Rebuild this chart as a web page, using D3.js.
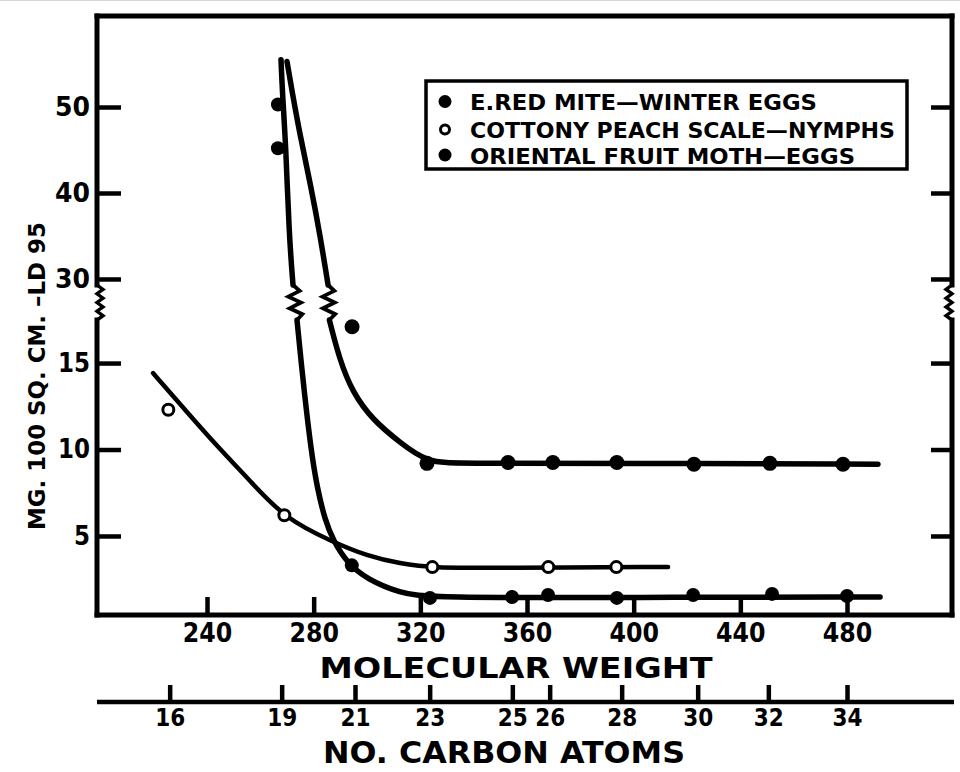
<!DOCTYPE html>
<html>
<head>
<meta charset="utf-8">
<script src="https://cdn.jsdelivr.net/npm/d3@7"></script>
<style>
  html, body { margin: 0; padding: 0; background: #fff; }
  svg { display: block; }
  text { font-family: "DejaVu Sans", "Liberation Sans", Arial, sans-serif; font-weight: bold; fill: #000; }
</style>
</head>
<body>
<svg id="chart" width="960" height="772"></svg>
<script>
// ---------- DATA ----------
const mwTicks = [240, 280, 320, 360, 400, 440, 480];
const carbonLabels = ["16", "19", "21", "23", "25", "26", "28", "30", "32", "34"];
const carbonMW = [226, 268, 295.5, 323.5, 354.5, 368.5, 395.5, 424, 450.5, 480];
const yTicksUpper = [30, 40, 50];
const yTicksLower = [5, 10, 15];

const legendLabels = [
  "E.RED MITE\u2014WINTER EGGS",
  "COTTONY PEACH SCALE\u2014NYMPHS",
  "ORIENTAL FRUIT MOTH\u2014EGGS"
];

// points [molecular weight, mg/100 sq cm LD95]
const redMitePts = [[294.4, 17.1], [322.5, 9.2], [352.9, 9.25], [369.7, 9.25], [393.7, 9.25], [422.6, 9.15], [451.1, 9.2], [478.5, 9.15]];
const cottonyPts = [[225.5, 12.3], [269, 6.2], [324.5, 3.2], [368, 3.2], [393.5, 3.2]];
const fruitMothPts = [[266.6, 45.2], [266.6, 50.3], [294.3, 3.3], [323.6, 1.42], [354.4, 1.47], [367.9, 1.59], [393.7, 1.42], [422.3, 1.59], [451.9, 1.65], [480, 1.53]];

// fitted curves (upper part above the axis break, lower part below it)
const redMiteCurveUpper = [[270.0, 55.3], [271.8, 52.0], [274.9, 46.7], [279.0, 40.7], [282.4, 35.1], [285.4, 29.3]];
const redMiteCurveLower = [[285.9, 17.49], [289.7, 15.2], [294.6, 13.3], [302.2, 11.7], [312.4, 10.4], [322.5, 9.25], [335, 9.2], [400, 9.2], [491.6, 9.15]];
const fruitMothCurveUpper = [[267.75, 55.5], [268.3, 51.5], [269.6, 45.3], [270.75, 35.3], [272.25, 29.3]];
const fruitMothCurveLower = [[273.75, 17.49], [275.25, 15.17], [276.4, 13.44], [279, 9.97], [281.25, 7.83], [284.25, 5.92], [287.25, 4.77], [292.5, 3.45], [300, 2.5], [312.4, 1.7], [323.6, 1.42], [400, 1.45], [492.4, 1.47]];
const cottonyCurve = [[219.75, 14.42], [231.75, 12.3], [243.75, 10.2], [256.1, 8.2], [269.25, 6.0], [287.25, 4.65], [300, 3.85], [312.4, 3.4], [324.75, 3.15], [350, 3.15], [412.9, 3.21]];

// ---------- LAYOUT ----------
const X0 = 97, X1 = 952, TOP = 16, BOT = 615;
const BREAK_TOP = 285, BREAK_BOT = 320;
const CARBON_Y = 702;

const svg = d3.select("#chart");
svg.append("rect").attr("width", 960).attr("height", 772).attr("fill", "#fff");
svg.append("line").attr("x1", 0).attr("x2", 960).attr("y1", 0.5).attr("y2", 0.5).attr("stroke", "#d8d8d8").attr("stroke-width", 1);

const x = d3.scaleLinear().domain([240, 480]).range([207, 847]);
const yUp = d3.scaleLinear().domain([29.3, 60.7]).range([BREAK_TOP, 15]);
const yLo = d3.scaleLinear().domain([0.43, 17.49]).range([BOT, BREAK_BOT]);
const yv = v => (v >= 25 ? yUp(v) : yLo(v));

// zigzag helper (break symbol)
function zigzag(xa, ya, xb, yb, n, amp, side) {
  const pts = [[xa, ya]];
  const steps = 2 * n;
  for (let i = 1; i < steps; i++) {
    const t = i / steps;
    const off = (i % 2 === 1) ? amp : (side === "both" ? -amp : 0);
    const sgn = side === "left" ? -1 : 1;
    pts.push([xa + (xb - xa) * t + sgn * off, ya + (yb - ya) * t]);
  }
  pts.push([xb, yb]);
  return d3.line()(pts);
}

// ---------- FRAME ----------
const frame = svg.append("g").attr("stroke", "#000").attr("fill", "none").attr("stroke-linecap", "square");
frame.append("line").attr("x1", X0).attr("x2", X1).attr("y1", TOP).attr("y2", TOP).attr("stroke-width", 5);
frame.append("line").attr("x1", X0).attr("x2", X1).attr("y1", BOT).attr("y2", BOT).attr("stroke-width", 5);
[X0, X1].forEach((xx, i) => {
  frame.append("line").attr("x1", xx).attr("x2", xx).attr("y1", TOP).attr("y2", BREAK_TOP).attr("stroke-width", 5);
  frame.append("line").attr("x1", xx).attr("x2", xx).attr("y1", BREAK_BOT).attr("y2", BOT).attr("stroke-width", 5);
  frame.append("path").attr("d", zigzag(xx, BREAK_TOP, xx, BREAK_BOT, 4, 6, i === 0 ? "right" : "left"))
    .attr("stroke-width", 3.4).attr("stroke-linejoin", "miter");
});

// ---------- AXES ----------
function styleAxis(g, fs, perChar) {
  g.select(".domain").remove();
  g.selectAll(".tick line").attr("stroke", "#000").attr("stroke-width", 4.5);
  g.selectAll(".tick text").attr("font-size", fs)
    .attr("font-family", "DejaVu Sans, Liberation Sans, Arial, sans-serif")
    .attr("font-weight", "bold").attr("fill", "#000");
  if (perChar) {
    g.selectAll(".tick text").each(function () {
      const s = d3.select(this);
      const n = s.text().length;
      if (n) s.attr("textLength", n * perChar).attr("lengthAdjust", "spacingAndGlyphs");
    });
  }
}
// bottom molecular weight axis
svg.append("g").attr("transform", `translate(0,${BOT})`)
  .call(d3.axisBottom(x).tickValues(mwTicks).tickSize(-18).tickPadding(9).tickFormat(d3.format("d")))
  .call(g => styleAxis(g, 26, 16.5));

// left axis
svg.append("g").attr("transform", `translate(${X0},0)`)
  .call(d3.axisLeft(yUp).tickValues(yTicksUpper).tickSize(-24).tickPadding(7))
  .call(g => styleAxis(g, 26, 17.5));
svg.append("g").attr("transform", `translate(${X0},0)`)
  .call(d3.axisLeft(yLo).tickValues(yTicksLower).tickSize(-24).tickPadding(7))
  .call(g => styleAxis(g, 26, 16));
// right axis (ticks only)
svg.append("g").attr("transform", `translate(${X1},0)`)
  .call(d3.axisRight(yUp).tickValues(yTicksUpper).tickSize(-21).tickFormat(""))
  .call(g => styleAxis(g, 26));
svg.append("g").attr("transform", `translate(${X1},0)`)
  .call(d3.axisRight(yLo).tickValues(yTicksLower).tickSize(-21).tickFormat(""))
  .call(g => styleAxis(g, 26));

// carbon atoms axis
svg.append("line").attr("x1", X0).attr("x2", 954).attr("y1", CARBON_Y).attr("y2", CARBON_Y)
  .attr("stroke", "#000").attr("stroke-width", 4.5);
svg.append("g").attr("transform", `translate(0,${CARBON_Y})`)
  .call(d3.axisBottom(x).tickValues(carbonMW).tickSize(-17).tickPadding(6).tickFormat((d, i) => carbonLabels[i]))
  .call(g => styleAxis(g, 25, 15));

// axis titles
svg.append("text").attr("x", 516).attr("y", 678).attr("text-anchor", "middle").attr("font-size", 29)
  .attr("textLength", 393).attr("lengthAdjust", "spacingAndGlyphs")
  .text("MOLECULAR    WEIGHT");
svg.append("text").attr("x", 504).attr("y", 763).attr("text-anchor", "middle").attr("font-size", 31)
  .attr("textLength", 362).attr("lengthAdjust", "spacingAndGlyphs")
  .text("NO. CARBON  ATOMS");
svg.append("text").attr("transform", "translate(45,376) rotate(-90)").attr("text-anchor", "middle")
  .attr("font-size", 23).attr("textLength", 308).attr("lengthAdjust", "spacingAndGlyphs")
  .text("MG. 100 SQ. CM. \u2013LD 95");

// ---------- CURVES ----------
const line = d3.line().x(d => x(d[0])).y(d => yv(d[1])).curve(d3.curveBasis);
const curves = svg.append("g").attr("fill", "none").attr("stroke", "#000").attr("stroke-linecap", "round").attr("stroke-linejoin", "round");

function brokenCurve(upper, lower, w) {
  curves.append("path").attr("d", line(upper)).attr("stroke-width", w);
  curves.append("path").attr("d", line(lower)).attr("stroke-width", w);
  const a = upper[upper.length - 1], b = lower[0];
  curves.append("path").attr("d", zigzag(x(a[0]), yUp(a[1]), x(b[0]), yLo(b[1]), 3, 6, "both"))
    .attr("stroke-width", 3.8).attr("stroke-linejoin", "miter");
}
brokenCurve(redMiteCurveUpper, redMiteCurveLower, 5.5);
brokenCurve(fruitMothCurveUpper, fruitMothCurveLower, 5.5);
curves.append("path").attr("d", line(cottonyCurve)).attr("stroke-width", 4.5);

// ---------- POINTS ----------
const pts = svg.append("g");
pts.selectAll(".rm").data(redMitePts).join("circle")
  .attr("cx", d => x(d[0])).attr("cy", d => yv(d[1])).attr("r", 7.5).attr("fill", "#000");
pts.selectAll(".fm").data(fruitMothPts).join("circle")
  .attr("cx", d => x(d[0])).attr("cy", d => yv(d[1])).attr("r", 7).attr("fill", "#000");
pts.selectAll(".cp").data(cottonyPts).join("circle")
  .attr("cx", d => x(d[0])).attr("cy", d => yv(d[1])).attr("r", 5.5)
  .attr("fill", "#fff").attr("stroke", "#000").attr("stroke-width", 3);

// ---------- LEGEND ----------
const lg = svg.append("g");
lg.append("rect").attr("x", 426).attr("y", 81).attr("width", 481).attr("height", 88)
  .attr("fill", "#fff").attr("stroke", "#000").attr("stroke-width", 3.5);
const legendRowsY = [101.5, 129.5, 155];
const legendWidths = [347, 425, 385];
legendLabels.forEach((t, i) => {
  if (i === 1) {
    lg.append("circle").attr("cx", 445).attr("cy", legendRowsY[i]).attr("r", 4.5)
      .attr("fill", "#fff").attr("stroke", "#000").attr("stroke-width", 3);
  } else {
    lg.append("circle").attr("cx", 445).attr("cy", legendRowsY[i]).attr("r", 6.5).attr("fill", "#000");
  }
  lg.append("text").attr("x", 470).attr("y", legendRowsY[i] + 8.5).attr("font-size", 22)
    .attr("textLength", legendWidths[i]).attr("lengthAdjust", "spacingAndGlyphs").text(t);
});
</script>
</body>
</html>
